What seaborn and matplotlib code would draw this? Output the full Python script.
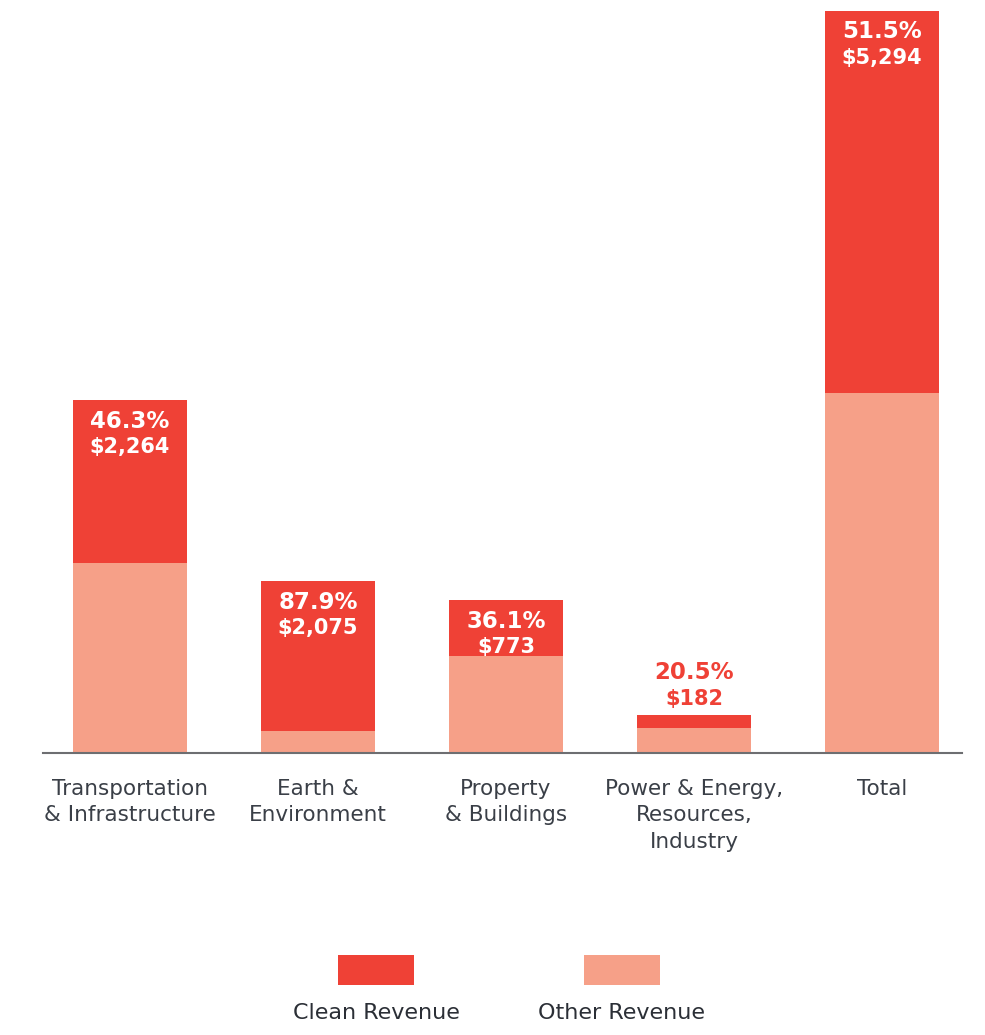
import matplotlib
matplotlib.use("Agg")
import matplotlib.pyplot as plt
from matplotlib.patches import Rectangle
import seaborn as sns
import pandas as pd

categories = ["Transportation\n& Infrastructure", "Earth &\nEnvironment", "Property\n& Buildings",
              "Power & Energy,\nResources,\nIndustry", "Total"]
clean_revenue = [2264, 2075, 773, 182, 5294]
clean_pct = [46.3, 87.9, 36.1, 20.5, 51.5]
other_revenue = [2626, 307, 1345, 340, 4986]
legend_labels = ["Clean Revenue", "Other Revenue"]

CLEAN = "#EF4136"
OTHER = "#F6A088"
TEXT = "#3A3F47"

sns.set_theme(style="white")
plt.rcParams['font.family'] = ['DejaVu Sans']

df = pd.DataFrame({"category": categories, "clean": clean_revenue, "other": other_revenue})
df["total"] = df["clean"] + df["other"]

fig = plt.figure(figsize=(9.85, 10.35), dpi=100)
ax = fig.add_axes([43/985, 1 - 753/1035, 919/985, 742/1035])

sns.barplot(data=df, x="category", y="total", color=CLEAN, width=0.61, saturation=1,
            linewidth=0, ax=ax)
sns.barplot(data=df, x="category", y="other", color=OTHER, width=0.61, saturation=1,
            linewidth=0, ax=ax)

ax.set_xlim(-0.463, 4.426)
ax.set_ylim(0, df["total"].max())
ax.set_xlabel("")
ax.set_ylabel("")
ax.set_yticks([])
for s in ["top", "left", "right"]:
    ax.spines[s].set_visible(False)
ax.spines["bottom"].set_color("#6D6E71")
ax.spines["bottom"].set_linewidth(1.5)
ax.tick_params(axis="x", length=0, pad=19, labelsize=15.5, labelcolor=TEXT)
for lbl in ax.get_xticklabels():
    lbl.set_linespacing(1.38)

px = df["total"].max() / 742.0  # data units per pixel
for i, (c, p, t) in enumerate(zip(df["clean"], clean_pct, df["total"])):
    if c / px > 45:
        ax.text(i, t - 21 * px, f"{p}%", ha="center", va="center", color="white",
                fontsize=16.5, fontweight="bold")
        ax.text(i, t - 47 * px, f"${c:,}", ha="center", va="center", color="white",
                fontsize=15, fontweight="bold")
    else:
        ax.text(i, t + 43 * px, f"{p}%", ha="center", va="center", color=CLEAN,
                fontsize=16.5, fontweight="bold")
        ax.text(i, t + 16 * px, f"${c:,}", ha="center", va="center", color=CLEAN,
                fontsize=15, fontweight="bold")

# legend: swatch above label
for (x0, lab, col) in [(338, legend_labels[0], CLEAN), (584, legend_labels[1], OTHER)]:
    fig.patches.append(Rectangle((x0/985, 1 - 985/1035), 76/985, 30/1035,
                                 transform=fig.transFigure, color=col, linewidth=0))
    fig.text((x0 + 38)/985, 1 - 1013/1035, lab, ha="center", va="center",
             fontsize=16, color="#2B2F36")

fig.savefig("out.png", dpi=100)
